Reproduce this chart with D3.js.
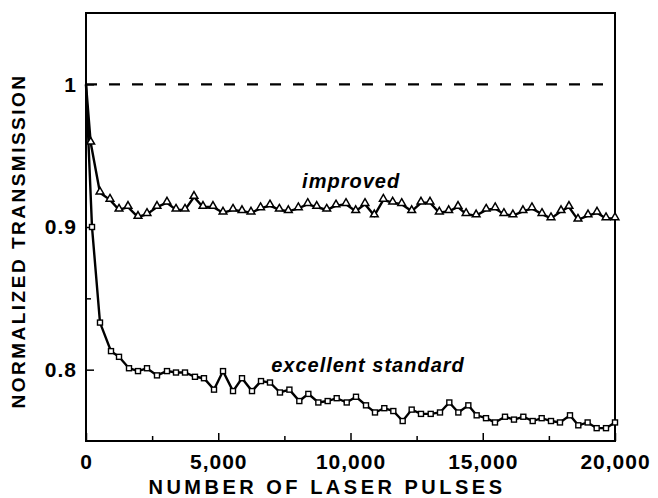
<!DOCTYPE html>
<html>
<head>
<meta charset="utf-8">
<script src="https://cdn.jsdelivr.net/npm/d3@7"></script>
<style>
  body { margin: 0; background: #fff; }
  text { font-family: "Liberation Sans", Arial, Helvetica, sans-serif; }
</style>
</head>
<body>
<div id="chart-area"></div>
<script>
// data
var improvedPulses = [0, 178, 529, 907, 1248, 1588, 1966, 2306, 2684, 3062,
    3403, 3743, 4083, 4423, 4801, 5180, 5558, 5898, 6238, 6600,
    6956, 7310, 7650, 8028, 8383, 8723, 9101, 9452, 9830, 10197,
    10548, 10900, 11241, 11595, 11936, 12314, 12665, 13006, 13358, 13713,
    14065, 14370, 14750, 15130, 15470, 15800, 16140, 16520, 16860, 17240,
    17580, 17960, 18260, 18600, 18980, 19320, 19660, 20000];
var improvedValues = [1.0, 0.959, 0.924, 0.919, 0.912, 0.914, 0.907, 0.909, 0.914, 0.917,
    0.912, 0.912, 0.921, 0.914, 0.914, 0.910, 0.912, 0.911, 0.910, 0.913,
    0.915, 0.912, 0.911, 0.913, 0.916, 0.914, 0.912, 0.915, 0.916, 0.911,
    0.916, 0.908, 0.919, 0.917, 0.916, 0.911, 0.917, 0.917, 0.910, 0.911,
    0.914, 0.909, 0.908, 0.912, 0.913, 0.909, 0.908, 0.911, 0.913, 0.909,
    0.906, 0.911, 0.914, 0.905, 0.908, 0.910, 0.906, 0.906];

var standardPulses = [0, 227, 529, 945, 1248, 1626, 1966, 2306, 2684, 3062,
    3403, 3743, 4120, 4460, 4840, 5180, 5558, 5898, 6276, 6616,
    6956, 7334, 7690, 8065, 8406, 8784, 9137, 9478, 9857, 10208,
    10586, 10926, 11278, 11619, 11973, 12313, 12665, 13032, 13384, 13736,
    14077, 14455, 14770, 15123, 15463, 15841, 16181, 16534, 16888, 17228,
    17580, 17920, 18298, 18613, 18966, 19307, 19660, 20000];
var standardValues = [1.0, 0.900, 0.833, 0.813, 0.809, 0.801, 0.799, 0.801, 0.796, 0.799,
    0.798, 0.798, 0.795, 0.794, 0.786, 0.799, 0.785, 0.794, 0.785, 0.792,
    0.791, 0.784, 0.786, 0.778, 0.783, 0.777, 0.778, 0.780, 0.777, 0.781,
    0.775, 0.770, 0.773, 0.771, 0.764, 0.772, 0.769, 0.769, 0.770, 0.777,
    0.770, 0.775, 0.768, 0.766, 0.763, 0.767, 0.765, 0.767, 0.764, 0.766,
    0.764, 0.763, 0.768, 0.761, 0.763, 0.759, 0.759, 0.763];

var xTicks = [0, 5000, 10000, 15000, 20000];
var xTickLabels = ["0", "5,000", "10,000", "15,000", "20,000"];
var xMinorTicks = [2500, 7500, 12500, 17500];
var yTicks = [0.8, 0.9, 1];
var yTickLabels = ["0.8", "0.9", "1"];
var yMinorTicks = [0.85];
var reference = 1;

var margin = {left: 86, right: 43, top: 13, bottom: 57};
var width = 658 - margin.left - margin.right;
var height = 498 - margin.top - margin.bottom;

var svg = d3.select("#chart-area")
    .append("svg")
        .attr("width", 658)
        .attr("height", 498);

var g = svg.append("g")
    .attr("transform", "translate(" + margin.left + ", " + margin.top + ")");

var x = d3.scaleLinear()
    .domain([0, 20000])
    .range([0, width]);

var y = d3.scaleLinear()
    .domain([0.75, 1.05])
    .range([height, 0]);

// ticks point inward
var xAxisCall = d3.axisBottom(x)
    .tickValues(xTicks)
    .tickSize(-8)
    .tickPadding(13)
    .tickFormat(function(d, i){ return xTickLabels[i]; });
var xAxis = g.append("g")
    .attr("transform", "translate(0," + height + ")")
    .call(xAxisCall);

var xMinor = g.append("g")
    .attr("transform", "translate(0," + height + ")")
    .call(d3.axisBottom(x).tickValues(xMinorTicks).tickSize(-5).tickFormat(""));

var yAxisCall = d3.axisLeft(y)
    .tickValues(yTicks)
    .tickSize(-8)
    .tickPadding(9)
    .tickFormat(function(d, i){ return yTickLabels[i]; });
var yAxis = g.append("g").call(yAxisCall);

var yMinor = g.append("g")
    .call(d3.axisLeft(y).tickValues(yMinorTicks).tickSize(-5).tickFormat(""));

[xAxis, xMinor, yAxis, yMinor].forEach(function(a){
    a.select(".domain").remove();
    a.selectAll("line").attr("stroke", "#000").attr("stroke-width", 1.5);
    a.selectAll("text")
        .attr("fill", "#000")
        .attr("font-size", "21px")
        .attr("font-weight", "bold")
        .attr("letter-spacing", "1px");
});

// frame
g.append("rect")
    .attr("x", 0)
    .attr("y", 0)
    .attr("width", width)
    .attr("height", height)
    .attr("fill", "none")
    .attr("stroke", "#000")
    .attr("stroke-width", 2);

// dashed reference at 1
g.append("line")
    .attr("x1", x(0))
    .attr("x2", x(20000) - 3)
    .attr("y1", y(reference))
    .attr("y2", y(reference))
    .attr("stroke", "#000")
    .attr("stroke-width", 2.2)
    .attr("stroke-dasharray", "11,12");

var line = d3.line()
    .x(function(d){ return x(d[0]); })
    .y(function(d){ return y(d[1]); });

var improved = improvedPulses.map(function(p, i){ return [p, improvedValues[i]]; });
var standard = standardPulses.map(function(p, i){ return [p, standardValues[i]]; });

g.append("path")
    .datum(improved)
    .attr("d", line)
    .attr("fill", "none")
    .attr("stroke", "#000")
    .attr("stroke-width", 2.4);

g.append("path")
    .datum(standard)
    .attr("d", line)
    .attr("fill", "none")
    .attr("stroke", "#000")
    .attr("stroke-width", 2.4);

var tri = d3.symbol().type(d3.symbolTriangle).size(26);
g.selectAll(".tri")
    .data(improved.slice(1))
    .enter().append("path")
        .attr("class", "tri")
        .attr("d", tri)
        .attr("transform", function(d){ return "translate(" + x(d[0]) + "," + (y(d[1]) - 1) + ")"; })
        .attr("fill", "#fff")
        .attr("stroke", "#000")
        .attr("stroke-width", 1.5);

g.selectAll(".sq")
    .data(standard.slice(1))
    .enter().append("rect")
        .attr("class", "sq")
        .attr("x", function(d){ return x(d[0]) - 2.5; })
        .attr("y", function(d){ return y(d[1]) - 2.5; })
        .attr("width", 5)
        .attr("height", 5)
        .attr("fill", "#fff")
        .attr("stroke", "#000")
        .attr("stroke-width", 1.4);

// series labels
g.append("text")
    .attr("x", x(8170))
    .attr("y", y(0.927))
    .attr("font-size", "20px")
    .attr("font-weight", "bold")
    .attr("font-style", "italic")
    .attr("letter-spacing", "1px")
    .text("improved");

g.append("text")
    .attr("x", x(7000))
    .attr("y", y(0.7985))
    .attr("font-size", "20px")
    .attr("font-weight", "bold")
    .attr("font-style", "italic")
    .attr("letter-spacing", "1px")
    .text("excellent standard");

// axis titles
svg.append("text")
    .attr("x", 327)
    .attr("y", 494)
    .attr("font-size", "20px")
    .attr("font-weight", "bold")
    .attr("letter-spacing", "3.5px")
    .attr("text-anchor", "middle")
    .text("NUMBER OF LASER PULSES");

svg.append("text")
    .attr("transform", "translate(25, 241) rotate(-90)")
    .attr("font-size", "19px")
    .attr("font-weight", "bold")
    .attr("letter-spacing", "2.5px")
    .attr("text-anchor", "middle")
    .text("NORMALIZED TRANSMISSION");
</script>
</body>
</html>
